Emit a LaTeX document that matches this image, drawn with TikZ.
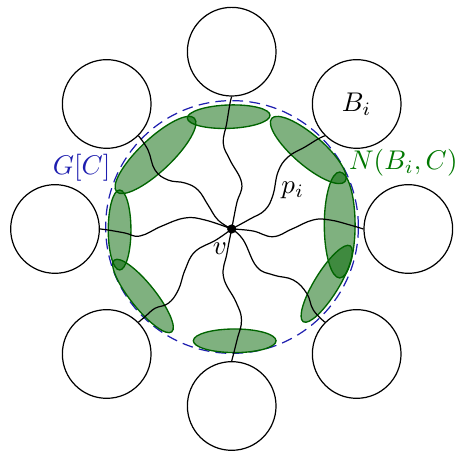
\documentclass[tikz,border=0pt]{standalone}
\usetikzlibrary{shapes.geometric}
\definecolor{gcblue}{RGB}{30,30,175}
\definecolor{ngreen}{RGB}{0,120,0}
\definecolor{elfill}{RGB}{0,100,0}
\begin{document}
\begin{tikzpicture}[x=0.37pt,y=-0.37pt,
  bag/.style={circle,draw,fill=white,minimum size=32.8pt,inner sep=0pt,line width=0.45pt},
  nbr/.style={draw=elfill,fill=elfill,fill opacity=0.5,draw opacity=1,line width=0.5pt},
  wpath/.style={draw,line width=0.45pt}]
\useasboundingbox (0,0) rectangle (455,451);
% bags
\node[bag] (B1) at (231.7,51.7) {};
\node[bag] (B2) at (356.7,104) {$B_i$};
\node[bag] (B3) at (408.3,229) {};
\node[bag] (B4) at (356.7,354) {};
\node[bag] (B5) at (231.7,406) {};
\node[bag] (B6) at (106.7,354) {};
\node[bag] (B7) at (55,229) {};
\node[bag] (B8) at (106.7,104) {};
% component
\node[circle,draw=gcblue,dash pattern=on 4pt off 2.3pt,minimum size=93.5pt,inner sep=0pt,line width=0.45pt] (C) at (232,227) {};
% neighbourhood ellipses
\path[nbr,shift={(228.7,116.7)},rotate=2] (0,0) ellipse [x radius=15.3pt,y radius=4.33pt];
\path[nbr,shift={(155.5,155)},rotate=43.4] (0,0) ellipse [x radius=19.8pt,y radius=6pt];
\path[nbr,shift={(119.6,230)},rotate=90] (0,0) ellipse [x radius=14.8pt,y radius=4.2pt];
\path[nbr,shift={(143,296)},rotate=-51.3] (0,0) ellipse [x radius=17pt,y radius=4.6pt];
\path[nbr,shift={(234.7,340.8)}] (0,0) ellipse [x radius=15.3pt,y radius=4.37pt];
\path[nbr,shift={(326.7,283.8)},rotate=58.3] (0,0) ellipse [x radius=16.5pt,y radius=4.5pt];
\path[nbr,shift={(339.7,225)},rotate=90] (0,0) ellipse [x radius=19.6pt,y radius=5.7pt];
\path[nbr,shift={(308.3,150)},rotate=-40.8] (0,0) ellipse [x radius=17.9pt,y radius=5.6pt];
% centre vertex
\node[circle,fill,inner sep=0pt,minimum size=3.4pt] (v) at (231.7,229) {};
% paths
\draw[wpath] plot[smooth,tension=0.7] coordinates {(v.center) (236.7,203.3) (241.7,183.3) (230,160) (223.3,143.3) (226.7,123.3) (230,103.3) (B1.south)};
\draw[wpath] plot[smooth,tension=0.7] coordinates {(v.center) (250,219) (265,210) (273,195) (278,172) (288,157) (305,147) (318,139) (B2.-135)};
\draw[wpath] plot[smooth,tension=0.7] coordinates {(v.center) (253,231) (273,236.7) (292,229) (313,220) (330,220) (350,225) (B3.west)};
\draw[wpath] plot[smooth,tension=0.7] coordinates {(v.center) (243.3,240) (256.7,266.7) (273.3,275) (293.3,280) (306.7,293.3) (313.3,310) (B4.135)};
\draw[wpath] plot[smooth,tension=0.7] coordinates {(v.center) (227,253) (223.5,277) (236,302) (241.5,320) (237,340) (B5.north)};
\draw[wpath] plot[smooth,tension=0.7] coordinates {(v.center) (216,240) (195,251.7) (185,270) (178.3,290) (168.3,303.3) (155,308.3) (145,316.7) (B6.45)};
\draw[wpath] plot[smooth,tension=0.7] coordinates {(v.center) (205,220) (185,218) (162,226) (140,236) (125,233) (108,230) (B7.east)};
\draw[wpath] plot[smooth,tension=0.7] coordinates {(v.center) (218,220) (208,205) (198,190) (185,183) (168,180) (155,170) (148,150) (B8.-45)};
% labels
\node (lv) at (220,248.3) {$v$};
\node (lp) at (292.7,190) {$p_i$};
\node[text=gcblue] (lG) at (81.7,167.5) {$G[C]$};
\node[text=ngreen] (lN) at (403.3,162.7) {$N(B_i,C)$};
\end{tikzpicture}
\end{document}
